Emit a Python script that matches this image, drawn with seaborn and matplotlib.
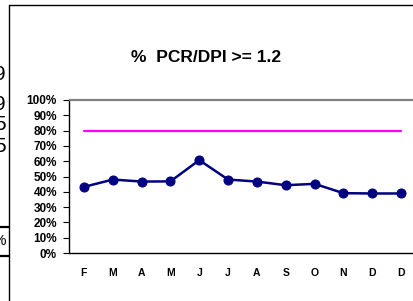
import matplotlib
matplotlib.use("Agg")
import matplotlib.pyplot as plt
import seaborn as sns
import pandas as pd
import numpy as np

months = ["F", "M", "A", "M", "J", "J", "A", "S", "O", "N", "D", "D"]
pct_values = [43.2, 48.0, 46.7, 46.8, 60.7, 48.0, 46.7, 44.3, 45.2, 39.1, 38.9, 38.9]
target_values = [80] * 12
y_ticks = [0, 10, 20, 30, 40, 50, 60, 70, 80, 90, 100]
title_text = "%  PCR/DPI >= 1.2"
side_digits = ["9", "9", "5", "5"]

sns.set_style("white")
plt.rcParams["font.family"] = ["Liberation Sans", "DejaVu Sans"]
plt.rcParams["text.color"] = "black"
plt.rcParams["xtick.color"] = "black"
plt.rcParams["ytick.color"] = "black"

df = pd.DataFrame({"idx": np.arange(len(months)), "month": months,
                   "pct": pct_values, "target": target_values})

W, H = 414, 301
fig = plt.figure(figsize=(W / 100, H / 100), dpi=100)
fig.patch.set_facecolor("white")

left_px, top_px, bot_px, right_px = 69.5, 100, 253, 415.5
ax = fig.add_axes([left_px / W, 1 - bot_px / H, (right_px - left_px) / W, (bot_px - top_px) / H])
ax.set_facecolor("white")

sns.lineplot(data=df, x="idx", y="target", ax=ax, color="#FF00FF", linewidth=1.6)
sns.lineplot(data=df, x="idx", y="pct", ax=ax, color="#000080", linewidth=1.8,
             marker="o", markersize=6.5, markeredgecolor="#000080", markerfacecolor="#000080")

ax.set_xlim(-0.5, len(months) - 0.5)
ax.set_ylim(0, 100)
ax.set_xlabel("")
ax.set_ylabel("")

ax.set_yticks(y_ticks)
ax.set_yticklabels([f"{v}%" for v in y_ticks], fontsize=8.5, fontweight="bold", color="black")
ax.set_xticks(df["idx"])
ax.set_xticklabels(months, fontsize=7.5, fontweight="bold", color="black")
ax.set_xticks(np.arange(-0.5, len(months), 1.0), minor=True)
ax.tick_params(axis="x", which="major", length=0, pad=10.5)
ax.tick_params(axis="x", which="minor", length=4, width=0.8, color="black", direction="out")
ax.tick_params(axis="y", which="major", length=4.5, width=0.8, color="black", direction="out", pad=4.5, left=True)

for s in ["left", "bottom"]:
    ax.spines[s].set_color("black")
    ax.spines[s].set_linewidth(1.0)
ax.spines["top"].set_color("#808080")
ax.spines["top"].set_linewidth(1.6)
ax.spines["right"].set_color("#808080")
ax.spines["right"].set_linewidth(1.6)
ax.grid(False)

fig.text(206 / W, 1 - 57 / H, title_text, fontsize=12.5, fontweight="bold",
         ha="center", va="center", color="black")

# chart-object frame (left and top edge)
fig.add_artist(plt.Line2D([9.3 / W, 9.3 / W], [0, 1 - 5.3 / H], color="black", linewidth=1.0))
fig.add_artist(plt.Line2D([9.3 / W, 1], [1 - 5.3 / H, 1 - 5.3 / H], color="black", linewidth=1.0))

# spreadsheet cell fragments to the left of the chart
for d, yc in zip(side_digits, [74, 104, 124, 147]):
    fig.text(6 / W, 1 - yc / H, d, fontsize=15, ha="right", va="center", color="black")
fig.text(6 / W, 1 - 241 / H, "%", fontsize=11, ha="right", va="center", color="black")
fig.add_artist(plt.Line2D([0, 9.3 / W], [1 - 226.5 / H, 1 - 226.5 / H], color="black", linewidth=1.6))
fig.add_artist(plt.Line2D([0, 9.3 / W], [1 - 255.5 / H, 1 - 255.5 / H], color="black", linewidth=1.6))

fig.savefig("out.png", dpi=100)
